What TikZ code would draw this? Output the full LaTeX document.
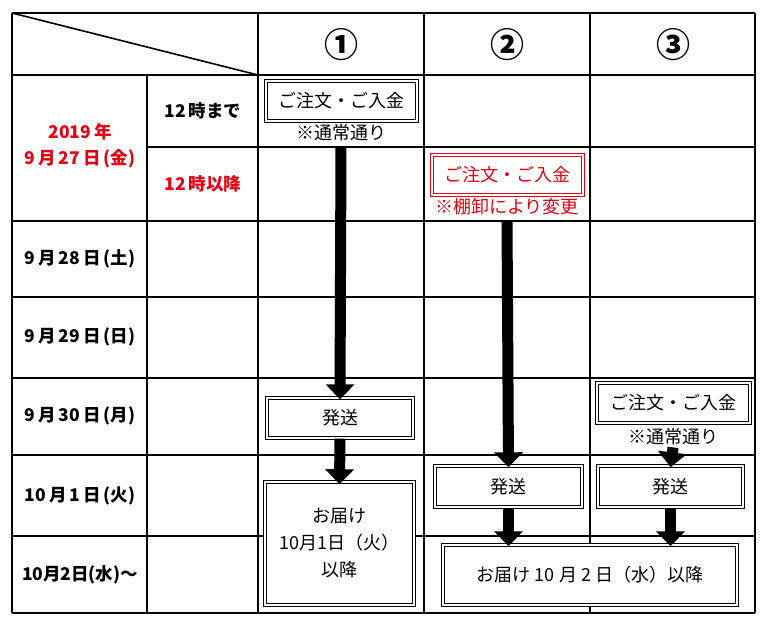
\documentclass[tikz,border=0pt]{standalone}
\usepackage{fontspec}
\setmainfont{Noto Sans CJK JP}
\usetikzlibrary{arrows.meta}
\definecolor{notered}{RGB}{230,0,18}
\def\gridw{2.2pt}
\def\gap{\hspace{3pt}}

\begin{document}
\begin{tikzpicture}[x=1pt,y=-1pt,line width=\gridw]
            \tikzstyle{frame}=[draw,double,double distance=1.5pt,line width=1.4pt,fill=white,inner sep=0pt,font=\fontsize{18}{27}\selectfont]
            \tikzstyle{note}=[inner sep=0pt,font=\fontsize{18}{20}\selectfont]
            \tikzstyle{rowlab}=[font=\bfseries\fontsize{17.5}{20}\selectfont]
            \tikzstyle{flow}=[line width=11pt,-{Triangle[width=28pt,length=15pt]}]
            \useasboundingbox (0,0) rectangle (768,625);

            % Draw the grid
            \foreach \y in {13,75,221,297,378,455,536,613}
                \draw (12,\y) -- (755,\y);
            \draw (147,147) -- (755,147);
            \foreach \x in {12,258,424,590,755}
                \draw (\x,13) -- (\x,613);
            \draw (147,75) -- (147,613);
            \draw[line width=1.6pt] (12,13) -- (258,75);

            % Column heads
            \foreach \x/\num in {341/①,507/②,673/③}
                \node[font=\bfseries\fontsize{34}{36}\selectfont] (H-\x) at (\x,45) {\num};

            % Row labels
            \node[rowlab, text=notered, align=center] (DAY27) at (80,146) {2019\gap 年\\[6pt]9\gap 月\gap 27\gap 日\gap(金)};
            \node[rowlab] (AM) at (203,111) {12\gap 時まで};
            \node[rowlab, text=notered] (PM) at (203,184) {12\gap 時以降};
            \foreach \name/\y/\txt in {28/259/9\gap 月\gap 28\gap 日\gap(土),29/337/9\gap 月\gap 29\gap 日\gap(日),30/416/9\gap 月\gap 30\gap 日\gap(月),1/496/10\gap 月\gap 1\gap 日\gap(火),2/575/10月2日(水)～}
                \node[rowlab] (D-\name) at (80,\y) {\txt};

            % Boxes
            \node[frame, minimum width=151pt, minimum height=40pt] (ORDER1) at (341.5,101) {ご注文・ご入金};
            \node[note] (NOTE1) at (341,133) {※通常通り};
            \node[frame, draw=notered, text=notered, minimum width=151pt, minimum height=40pt] (ORDER2) at (507.5,175) {ご注文・ご入金};
            \node[note, text=notered] (NOTE2) at (507,207) {※棚卸により変更};
            \node[frame, minimum width=153pt, minimum height=40pt] (ORDER3) at (673.5,403) {ご注文・ご入金};
            \node[note] (NOTE3) at (673,437) {※通常通り};

            \node[frame, minimum width=146pt, minimum height=40pt] (SHIP1) at (340,418) {発送};
            \node[frame, minimum width=147pt, minimum height=41pt] (SHIP2) at (508.5,486.5) {発送};
            \node[frame, minimum width=145pt, minimum height=41pt] (SHIP3) at (670.5,486.5) {発送};

            \node[frame, align=center, minimum width=149pt, minimum height=123pt] (DELIV1) at (339.5,543.5) {お届け\\10月1日（火）\\以降};
            \node[frame, minimum width=294pt, minimum height=60pt] (DELIV2) at (590,575) {お届け 10 月 2 日（水）以降};

            % Connect the steps
            \draw[flow] ([yshift=-4pt]NOTE1.south) -- ([yshift=-2pt]SHIP1.north);
            \draw[flow] (SHIP1.south) -- ([yshift=-3pt]DELIV1.north);
            \draw[flow] ([yshift=-4pt]NOTE2.south) -- ([yshift=-2pt]SHIP2.north);
            \draw[flow] ([yshift=-1pt]NOTE3.south) -- ([yshift=-2pt]SHIP3.north);
            \draw[flow] (SHIP2.south) -- ([yshift=-2pt]SHIP2.south |- DELIV2.north);
            \draw[flow] (SHIP3.south) -- ([yshift=-2pt]SHIP3.south |- DELIV2.north);
\end{tikzpicture}
\end{document}
